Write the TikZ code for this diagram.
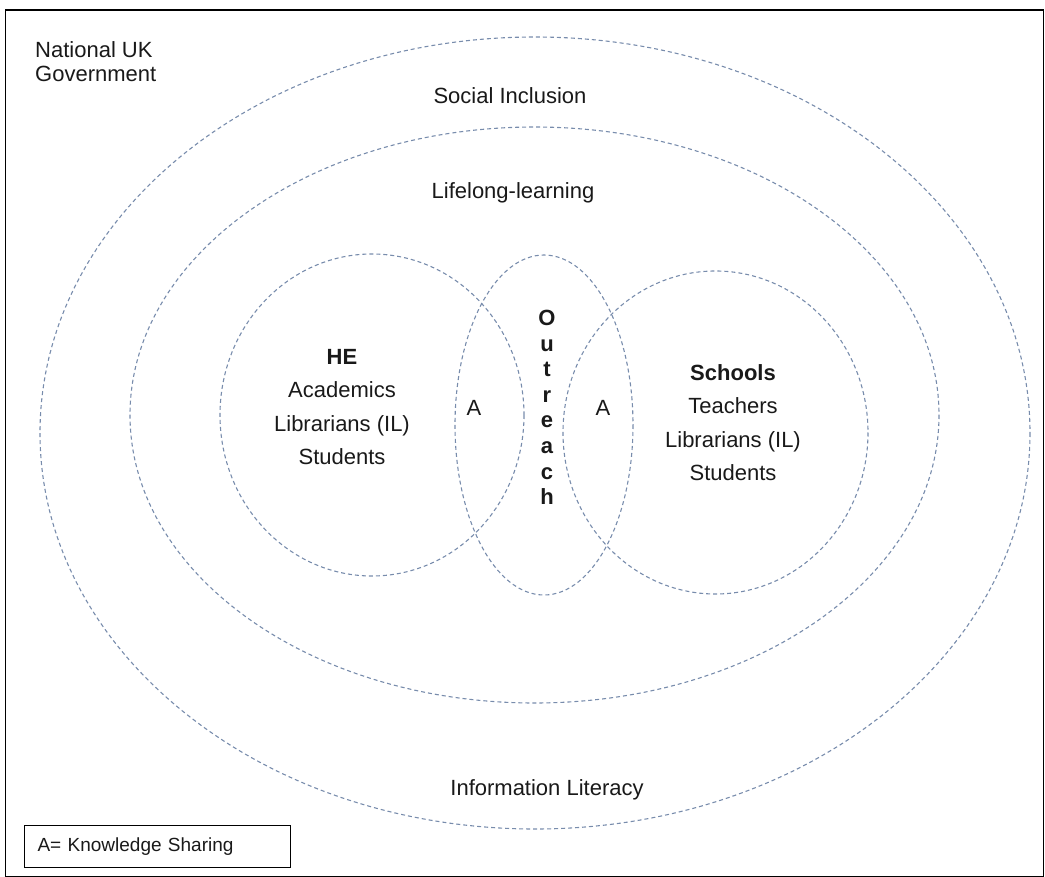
\documentclass[tikz,border=0pt]{standalone}
\usepackage{fontspec}
\setmainfont{Liberation Sans}
\definecolor{dashcol}{RGB}{120,140,172}
\definecolor{txt}{RGB}{25,25,25}
\begin{document}
\begin{tikzpicture}[x=1pt,y=-1pt,
  ring/.style={draw=dashcol, line width=1.1pt, dash pattern=on 4pt off 3pt},
  lbl/.style={inner sep=0pt, text=txt, font=\fontsize{22}{26}\selectfont},
  block/.style={lbl, align=center, font=\fontsize{22}{33.3}\selectfont}]
\useasboundingbox (0,0) rectangle (1045,877);
% frame
\draw[line width=1.3pt] (5.5,10) rectangle (1043.5,877);
% rings
\draw[ring] (535,433) ellipse [x radius=495, y radius=396];
\draw[ring] (534.5,415) ellipse [x radius=404.5, y radius=288];
\draw[ring] (372,415) ellipse [x radius=152, y radius=161];
\draw[ring] (544,425) ellipse [x radius=89, y radius=170];
\draw[ring] (715.5,432.5) ellipse [x radius=152.5, y radius=161.5];
% labels
\node[lbl, anchor=north west, align=left, font=\fontsize{22}{24}\selectfont] (gov) at (35,41.2) {National UK\\Government};
\node[lbl, anchor=base] (soc) at (510,104) {Social Inclusion};
\node[lbl, anchor=base] (life) at (513,199) {Lifelong-learning};
\node[lbl, anchor=base] (info) at (547,795) {Information Literacy};
\node[lbl, anchor=base] (a1) at (474,416) {A};
\node[lbl, anchor=base] (a2) at (603,416) {A};
\node[block] (he) at (342,407) {\textbf{HE}\\Academics\\Librarians (IL)\\Students};
\node[block] (sch) at (733,422.6) {\textbf{Schools}\\Teachers\\Librarians (IL)\\Students};
\node[lbl, align=center, font=\bfseries\fontsize{22}{25.6}\selectfont] (out) at (547,407.5) {O\\u\\t\\r\\e\\a\\c\\h};
% legend
\node[draw=black, line width=1.1pt, anchor=north west, text=txt, font=\fontsize{19}{22}\selectfont,
  text width=240pt, align=left, inner xsep=13pt, inner ysep=0pt, minimum height=42pt] (legend) at (24,825) {A= Knowledge Sharing};
\end{tikzpicture}
\end{document}
